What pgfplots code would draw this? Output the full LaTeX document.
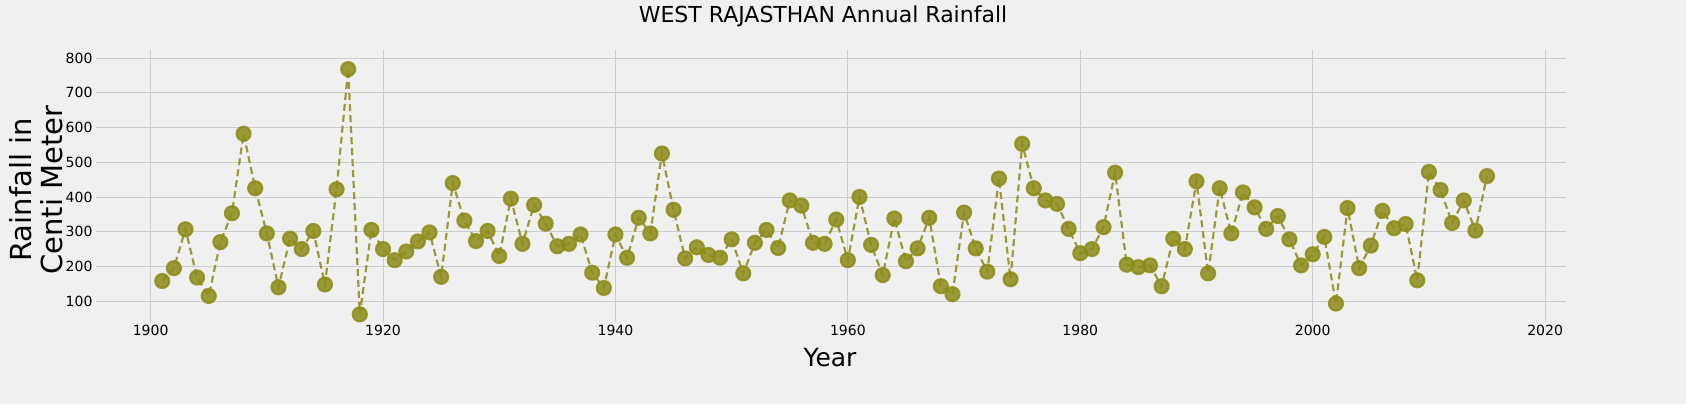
\documentclass[border=0pt]{standalone}
\usepackage{pgfplots}
\pgfplotsset{compat=1.18}
\usepackage{fontspec}
\setmainfont{DejaVu Sans}
\definecolor{bg}{HTML}{F0F0F0}
\definecolor{olv}{HTML}{8C8C1A}
\begin{document}
\begin{tikzpicture}[x=1pt,y=1pt]
\fill[bg] (0,0) rectangle (1686,404);
\node[font=\fontsize{22}{26}\selectfont] at (823,388) {WEST RAJASTHAN Annual Rainfall};
\node[font=\fontsize{25}{30}\selectfont] at (830,46) {Year};
\node[font=\fontsize{29}{31}\selectfont,rotate=90,align=center] at (36,214) {Rainfall in\\Centi Meter};
\begin{axis}[at={(96pt,82pt)},anchor=south west,scale only axis,width=1470pt,height=272pt,
 xmin=1895.3,xmax=2021.8,ymin=40,ymax=823,
 axis line style={draw=none},tick style={draw=none},
 grid=major,grid style={color=black!20,line width=0.8pt},
 xtick={1900,1920,...,2020},ytick={100,200,...,800},
 x tick label style={/pgf/number format/1000 sep={}},
 ticklabel style={font=\fontsize{14}{16}\selectfont},
 /pgf/number format/assume math mode=true]
\addplot[color=olv,opacity=0.85,line width=2.2pt,dashed,dash pattern=on 7pt off 4pt,mark=*,mark size=7pt,mark options={solid,fill=olv,draw=olv}] coordinates {
(1901,158)(1902,195)(1903,307)(1904,168)(1905,115)(1906,270)(1907,353)(1908,582)(1909,425)(1910,295)
(1911,140)(1912,280)(1913,250)(1914,302)(1915,148)(1916,422)(1917,768)(1918,62)(1919,305)(1920,250)
(1921,218)(1922,243)(1923,272)(1924,298)(1925,170)(1926,440)(1927,332)(1928,273)(1929,302)(1930,230)
(1931,395)(1932,265)(1933,377)(1934,323)(1935,258)(1936,265)(1937,292)(1938,182)(1939,138)(1940,292)
(1941,225)(1942,340)(1943,295)(1944,525)(1945,363)(1946,223)(1947,255)(1948,233)(1949,225)(1950,278)
(1951,180)(1952,268)(1953,305)(1954,253)(1955,390)(1956,375)(1957,268)(1958,265)(1959,335)(1960,218)
(1961,400)(1962,262)(1963,175)(1964,338)(1965,215)(1966,252)(1967,340)(1968,143)(1969,120)(1970,355)
(1971,252)(1972,185)(1973,453)(1974,163)(1975,553)(1976,425)(1977,390)(1978,380)(1979,308)(1980,238)
(1981,250)(1982,313)(1983,470)(1984,205)(1985,198)(1986,203)(1987,143)(1988,280)(1989,250)(1990,445)
(1991,180)(1992,425)(1993,295)(1994,413)(1995,370)(1996,308)(1997,345)(1998,278)(1999,203)(2000,235)
(2001,285)(2002,93)(2003,368)(2004,195)(2005,260)(2006,360)(2007,310)(2008,322)(2009,160)(2010,472)
(2011,420)(2012,325)(2013,390)(2014,303)(2015,460)};
\end{axis}
\end{tikzpicture}
\end{document}
